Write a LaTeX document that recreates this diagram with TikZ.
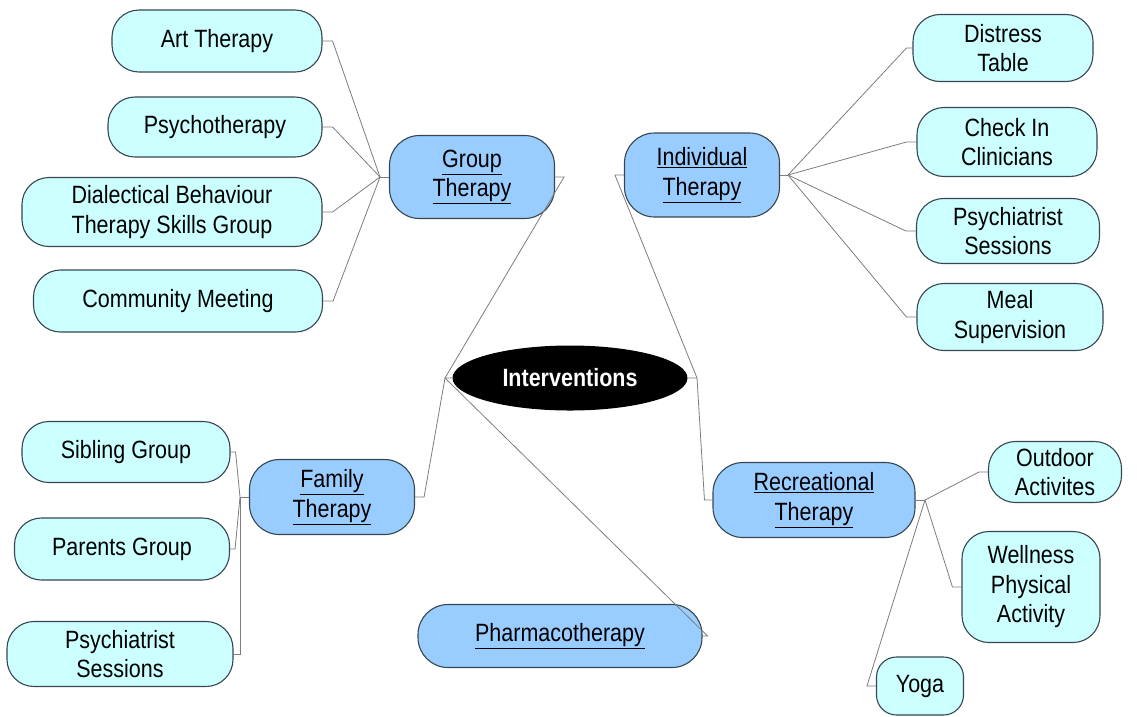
\documentclass[tikz,border=0pt]{standalone}
\usepackage{fontspec}
\setmainfont{Liberation Sans}[FakeStretch=0.86]
\usepackage{tikz}
\usetikzlibrary{shapes.geometric}

\definecolor{leafcyan}{RGB}{204,255,255}
\definecolor{branchblue}{RGB}{153,204,255}
\definecolor{edgeslate}{RGB}{55,70,80}
\definecolor{linkgray}{RGB}{125,125,125}

\tikzset{
  leaf/.style={draw=edgeslate, line width=1.1pt, fill=leafcyan, rounded corners=27pt, align=center, inner sep=0.75pt},
  branch/.style={draw=edgeslate, line width=1.1pt, fill=branchblue, rounded corners=30pt, align=center, inner sep=0.75pt},
  link/.style={draw=linkgray, line width=0.8pt}
}

\begin{document}
\begin{tikzpicture}[x=1pt,y=1pt,yscale=-1,xscale=1,font=\fontsize{25}{29.5}\selectfont]
\useasboundingbox (0,0) rectangle (1137,716);

%Shape: Ellipse [id:interv]
\draw (570,378) node [ellipse, fill=black, minimum width=235, minimum height=65, inner sep=0pt, text=white, font=\fontsize{25}{29.5}\selectfont\bfseries] (interv) {Interventions};

%Shape: Rounded Rect -- branches
\draw (472,177) node [branch, minimum width=165, minimum height=83] (group) {\underline{Group}\\\underline{Therapy}};
\draw (702,175) node [branch, minimum width=155, minimum height=84] (indiv) {\underline{Individual}\\\underline{Therapy}};
\draw (332,497) node [branch, minimum width=165, minimum height=75] (family) {\underline{Family}\\\underline{Therapy}};
\draw (814,500) node [branch, minimum width=202, minimum height=75] (recr) {\underline{Recreational}\\\underline{Therapy}};
\draw (560,636) node [branch, minimum width=284, minimum height=63] (pharma) {\underline{Pharmacotherapy}};

% Text Node -- group therapy leaves
\draw (217,41) node [leaf, minimum width=210, minimum height=62] (art) {Art Therapy};
\draw (215,127) node [leaf, minimum width=214, minimum height=60] (psycho) {Psychotherapy};
\draw (172,212) node [leaf, minimum width=300, minimum height=69] (dbt) {Dialectical Behaviour\\Therapy Skills Group};
\draw (178,301) node [leaf, minimum width=289, minimum height=62] (community) {Community Meeting};

% Text Node -- individual therapy leaves
\draw (1003,48) node [leaf, minimum width=180, minimum height=67] (distress) {Distress\\Table};
\draw (1007,142) node [leaf, minimum width=180, minimum height=69] (checkin) {Check In\\Clinicians};
\draw (1008,231) node [leaf, minimum width=183, minimum height=65] (psychR) {Psychiatrist\\Sessions};
\draw (1010,317) node [leaf, minimum width=186, minimum height=67] (meal) {Meal\\Supervision};

% Text Node -- family therapy leaves
\draw (126,452) node [leaf, minimum width=208, minimum height=61] (sibling) {Sibling Group};
\draw (122,549) node [leaf, minimum width=215, minimum height=62] (parents) {Parents Group};
\draw (120,654) node [leaf, minimum width=226, minimum height=65] (psychL) {Psychiatrist\\Sessions};

% Text Node -- recreational therapy leaves
\draw (1055,472) node [leaf, minimum width=133, minimum height=61] (outdoor) {Outdoor\\Activites};
\draw (1031,587) node [leaf, minimum width=138, minimum height=111] (wellness) {Wellness\\Physical\\Activity};
\draw (920,686) node [leaf, minimum width=87, minimum height=58, rounded corners=20pt] (yoga) {Yoga};

%Straight Lines -- hubs
\coordinate (gHub) at (380,177);
\coordinate (indHub) at (788,175);
\coordinate (fHub) at (240,497);
\coordinate (rHub) at (925,500);
\coordinate (iHubL) at (445,378);
\coordinate (iHubR) at (697,378);

%Straight Lines -- centre
\draw [link] (group.east) -- ++(9,0) -- (iHubL) -- (interv.west);
\draw [link] (family.east) -- ++(9,0) -- (iHubL);
\draw [link] (pharma.east) -- ++(5,0) -- (iHubL);
\draw [link] (indiv.west) -- ++(-9,0) -- (iHubR) -- (interv.east);
\draw [link] (recr.west) -- ++(-8,0) -- (iHubR);

%Straight Lines -- group therapy
\draw [link] (gHub) -- (group.west);
\draw [link] (art.east) -- ++(10,0) -- (gHub);
\draw [link] (psycho.east) -- ++(10,0) -- (gHub);
\draw [link] (dbt.east) -- ++(10,0) -- (gHub);
\draw [link] (community.east) -- ++(10,0) -- (gHub);

%Straight Lines -- individual therapy
\draw [link] (indiv.east) -- (indHub);
\draw [link] (distress.west) -- ++(-6,0) -- (indHub);
\draw [link] (checkin.west) -- ++(-10,0) -- (indHub);
\draw [link] (psychR.west) -- ++(-10,0) -- (indHub);
\draw [link] (meal.west) -- ++(-10,0) -- (indHub);

%Straight Lines -- family therapy
\draw [link] (family.west) -- (fHub);
\draw [link] (sibling.east) -- ++(5,0) -- (fHub);
\draw [link] (parents.east) -- ++(5,0) -- (fHub);
\draw [link] (psychL.east) -| (fHub);

%Straight Lines -- recreational therapy
\draw [link] (recr.east) -- (rHub);
\draw [link] (outdoor.west) -- ++(-9,0) -- (rHub);
\draw [link] (wellness.west) -- ++(-9,0) -- (rHub);
\draw [link] (yoga.west) -- ++(-9,0) -- (rHub);

\end{tikzpicture}
\end{document}
